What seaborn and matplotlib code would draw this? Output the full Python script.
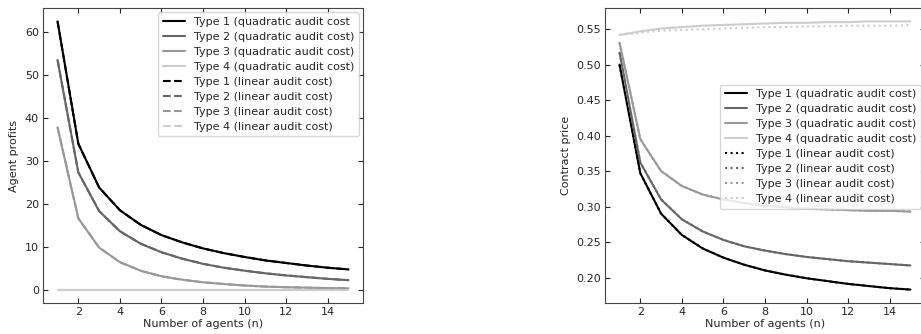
import numpy as np
import pandas as pd
import seaborn as sns
import matplotlib
matplotlib.use('Agg')
import matplotlib.pyplot as plt

# 数据
n_agents = list(range(1, 16))
type_names = ['Type 1', 'Type 2', 'Type 3', 'Type 4']
type_colors = ['#000000', '#666666', '#999999', '#cccccc']

profit_quad = [
    [62.5, 34.0, 23.8, 18.5, 15.1, 12.7, 11.0, 9.6, 8.5, 7.6, 6.8, 6.2, 5.6, 5.1, 4.7],
    [53.5, 27.3, 18.3, 13.6, 10.7, 8.7, 7.2, 6.0, 5.1, 4.4, 3.8, 3.3, 2.9, 2.5, 2.2],
    [37.8, 16.6, 9.8, 6.4, 4.4, 3.1, 2.3, 1.7, 1.3, 0.95, 0.7, 0.55, 0.45, 0.35, 0.3],
    [0.0, 0.0, 0.0, 0.0, 0.0, 0.0, 0.0, 0.0, 0.0, 0.0, 0.0, 0.0, 0.0, 0.0, 0.0],
]
profit_lin = [
    [62.5, 34.0, 23.8, 18.5, 15.1, 12.7, 11.0, 9.6, 8.5, 7.6, 6.8, 6.2, 5.6, 5.1, 4.7],
    [53.5, 27.3, 18.3, 13.6, 10.7, 8.7, 7.2, 6.0, 5.1, 4.4, 3.8, 3.3, 2.9, 2.5, 2.2],
    [37.8, 16.6, 9.8, 6.4, 4.4, 3.1, 2.3, 1.7, 1.3, 0.95, 0.7, 0.55, 0.45, 0.35, 0.3],
    [0.0, 0.0, 0.0, 0.0, 0.0, 0.0, 0.0, 0.0, 0.0, 0.0, 0.0, 0.0, 0.0, 0.0, 0.0],
]
price_quad = [
    [0.500, 0.347, 0.290, 0.260, 0.241, 0.228, 0.218, 0.210, 0.204, 0.199, 0.195, 0.191, 0.188, 0.185, 0.183],
    [0.517, 0.362, 0.310, 0.282, 0.265, 0.253, 0.244, 0.238, 0.233, 0.229, 0.226, 0.223, 0.221, 0.219, 0.217],
    [0.531, 0.395, 0.350, 0.329, 0.317, 0.310, 0.305, 0.301, 0.299, 0.297, 0.296, 0.295, 0.294, 0.294, 0.293],
    [0.542, 0.547, 0.551, 0.553, 0.555, 0.556, 0.557, 0.558, 0.559, 0.559, 0.560, 0.560, 0.561, 0.561, 0.561],
]
price_lin = [
    [0.500, 0.347, 0.290, 0.260, 0.241, 0.228, 0.218, 0.210, 0.204, 0.199, 0.195, 0.191, 0.188, 0.185, 0.183],
    [0.517, 0.362, 0.310, 0.282, 0.265, 0.253, 0.244, 0.238, 0.233, 0.229, 0.226, 0.223, 0.221, 0.219, 0.217],
    [0.531, 0.395, 0.350, 0.329, 0.317, 0.310, 0.305, 0.301, 0.299, 0.297, 0.296, 0.295, 0.294, 0.294, 0.293],
    [0.542, 0.545, 0.548, 0.549, 0.550, 0.551, 0.552, 0.553, 0.553, 0.554, 0.554, 0.555, 0.555, 0.555, 0.556],
]

sns.set_style('ticks', {'xtick.direction': 'in', 'ytick.direction': 'in'})
plt.rcParams['font.family'] = ['DejaVu Sans']
fs = 8
plt.rcParams['font.size'] = fs

fig = plt.figure(figsize=(9.21, 3.34), dpi=100)
ax1 = fig.add_axes([43/921, 31/334, 320/921, 295/334])
ax2 = fig.add_axes([605/921, 31/334, 320/921, 295/334])


def draw(ax, quad, lin, lin_style, ylabel, first_label):
    for i in range(4):
        lab = type_names[i] + ' (quadratic audit cost)'
        if i == 0:
            lab = first_label
        sns.lineplot(x=n_agents, y=quad[i], color=type_colors[i], linewidth=1.5,
                     label=lab, ax=ax)
    for i in range(4):
        sns.lineplot(x=n_agents, y=lin[i], color=type_colors[i], linewidth=1.5, linestyle=lin_style,
                     label=type_names[i] + ' (linear audit cost)', ax=ax)
    ax.set_xlabel('Number of agents (n)', fontsize=fs, labelpad=1)
    ax.set_ylabel(ylabel, fontsize=fs)
    ax.tick_params(top=True, right=True, labelsize=fs, length=3.5, pad=3)
    ax.set_xticks([2, 4, 6, 8, 10, 12, 14])
    for sp in ax.spines.values():
        sp.set_color('#444444')


draw(ax1, profit_quad, profit_lin, '--', 'Agent profits', 'Type 1 (quadratic audit cost')
draw(ax2, price_quad, price_lin, ':', 'Contract price', 'Type 1 (quadratic audit cost)')
ax1.set_yticks([0, 10, 20, 30, 40, 50, 60])
ax1.legend(loc='upper right', fontsize=fs, handlelength=2, borderaxespad=0.4, labelspacing=0.45)
ax2.legend(loc='center right', bbox_to_anchor=(1.0, 0.53), fontsize=fs, handlelength=2, borderaxespad=0.4, labelspacing=0.45)

plt.savefig('out.png', dpi=100)
